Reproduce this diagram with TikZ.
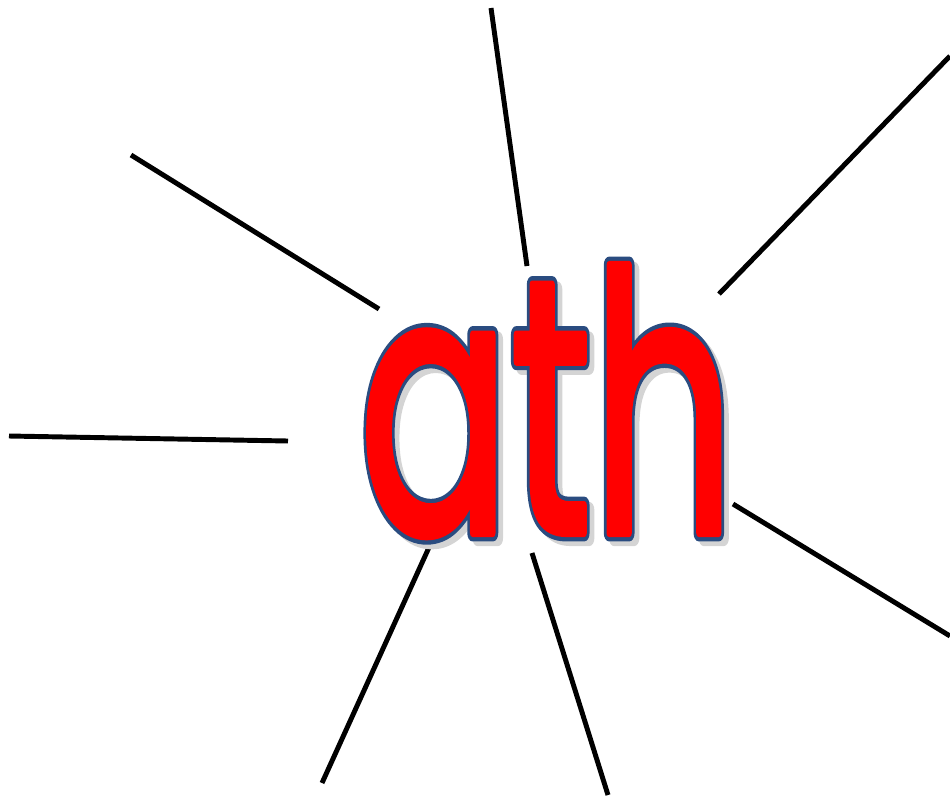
\documentclass[tikz,border=0pt]{standalone}
\usepackage{fontspec}
\usepackage{graphicx}
\newfontfamily\wordfont{Poppins}
\definecolor{letterred}{RGB}{255, 0, 0}
\definecolor{outlineblue}{RGB}{42, 76, 128}
\definecolor{shadowgray}{RGB}{212, 212, 212}
% the word, with a stroke set by #1 (colour, width, render mode)
\newcommand{\bigword}[1]{\resizebox{282pt}{201pt}{\wordfont\fontsize{270}{270}\selectfont #1ath\special{pdf:literal direct 0 Tr}}}
\newcommand{\strokeset}[2]{\special{pdf:literal direct #1 RG #2 w 1 j 2 Tr}}
\newcommand{\shadowword}{\rlap{\hspace{3.75pt}\raisebox{-3.75pt}{\bigword{\color{shadowgray}\strokeset{0.83 0.83 0.83}{12}}}}}
\newcommand{\outlineword}{\rlap{\bigword{\color{letterred}\strokeset{0.165 0.298 0.502}{12.5}}}}
\tikzset{
  ray/.style={line width=3.7pt, black},
  wordbox/.style={anchor=base west, inner sep=0pt, outer sep=0pt}
}
\begin{document}
\begin{tikzpicture}[x=0.75pt, y=-0.75pt]
  \useasboundingbox (0,0) rectangle (950,801);

  % Rays round the word
  \draw[ray] (131,155) -- (379,309);
  \draw[ray] (491,8) -- (527,266);
  \draw[ray] (950,56) -- (719,294);
  \draw[ray] (9,436) -- (288,441);
  \draw[ray] (733,504) -- (950,636);
  \draw[ray] (431,543) -- (322,783);
  \draw[ray] (532,553) -- (608,795);

  % The word: shadow, blue outline, red letters
  \node[wordbox] (word) at (359,533)
    {\shadowword\outlineword\bigword{\color{letterred}\strokeset{1 0 0}{6}}};
\end{tikzpicture}
\end{document}
